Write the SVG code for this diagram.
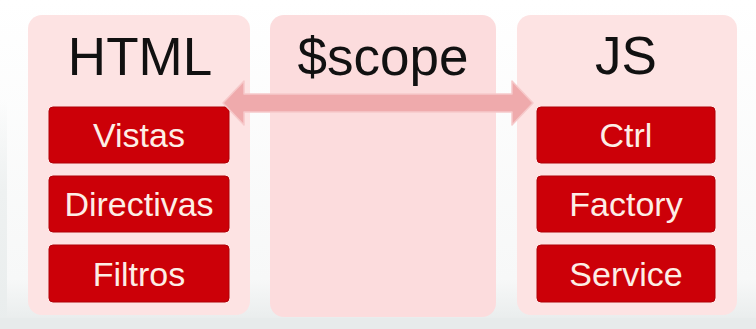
<svg xmlns="http://www.w3.org/2000/svg" width="756" height="329" viewBox="0 0 756 329">
  <defs>
    <linearGradient id="bg" x1="0" y1="0" x2="0" y2="1">
      <stop offset="0" stop-color="#ffffff"/>
      <stop offset="0.85" stop-color="#f7f8f8"/>
      <stop offset="1" stop-color="#e6eaea"/>
    </linearGradient>
    <linearGradient id="leftEdge" x1="0" y1="0" x2="0" y2="1">
      <stop offset="0" stop-color="#eef1f1" stop-opacity="0"/>
      <stop offset="0.4" stop-color="#eef1f1"/>
      <stop offset="1" stop-color="#e9eded"/>
    </linearGradient>
    <style>
      .panel { fill: #fde3e3; }
      .panel-mid { fill: #fcdcdd; }
      .title { font-family: "Liberation Sans", Arial, sans-serif; font-size: 53px; fill: #111111; text-anchor: middle; }
      .item rect { fill: #cc0008; stroke: #b00006; stroke-width: 1; }
      .item text { font-family: "Liberation Sans", Arial, sans-serif; font-size: 34px; fill: #fdeee6; text-anchor: middle; }
      .arrow { fill: #efaaac; stroke: #f6c9ca; stroke-width: 1.5; stroke-linejoin: round; }
    </style>
  </defs>

  <!-- backdrop -->
  <rect x="0" y="0" width="756" height="329" fill="url(#bg)"/>
  <rect x="0" y="100" width="7" height="229" fill="url(#leftEdge)"/>
  <rect x="0" y="318" width="756" height="11" fill="#e7ebeb"/>

  <!-- HTML column -->
  <g id="html">
    <rect class="panel" x="28" y="15" width="222" height="300" rx="14"/>
    <text class="title" x="140" y="75">HTML</text>
  </g>
  <g id="vistas" class="item">
    <rect x="49" y="107" width="180" height="56" rx="4"/>
    <text x="139" y="147">Vistas</text>
  </g>
  <g id="directivas" class="item">
    <rect x="49" y="176" width="180" height="56" rx="4"/>
    <text x="139" y="216">Directivas</text>
  </g>
  <g id="filtros" class="item">
    <rect x="49" y="245" width="180" height="57" rx="4"/>
    <text x="139" y="286">Filtros</text>
  </g>

  <!-- $scope column -->
  <g id="scope">
    <rect class="panel-mid" x="270" y="15" width="226" height="302" rx="14"/>
    <text class="title" x="383" y="75">$scope</text>
  </g>

  <!-- JS column -->
  <g id="js">
    <rect class="panel" x="517" y="15" width="220" height="300" rx="14"/>
    <text class="title" x="626" y="74">JS</text>
  </g>
  <g id="ctrl" class="item">
    <rect x="537" y="107" width="178" height="56" rx="4"/>
    <text x="626" y="147">Ctrl</text>
  </g>
  <g id="factory" class="item">
    <rect x="537" y="176" width="178" height="56" rx="4"/>
    <text x="626" y="216">Factory</text>
  </g>
  <g id="service" class="item">
    <rect x="537" y="245" width="178" height="57" rx="4"/>
    <text x="626" y="286">Service</text>
  </g>

  <!-- connectors -->
  <g id="connectors">
    <path class="arrow" d="M223,103 L244,81 L244,94 L512,94 L512,81 L533,103 L512,125 L512,112 L244,112 L244,125 Z"/>
  </g>
</svg>
